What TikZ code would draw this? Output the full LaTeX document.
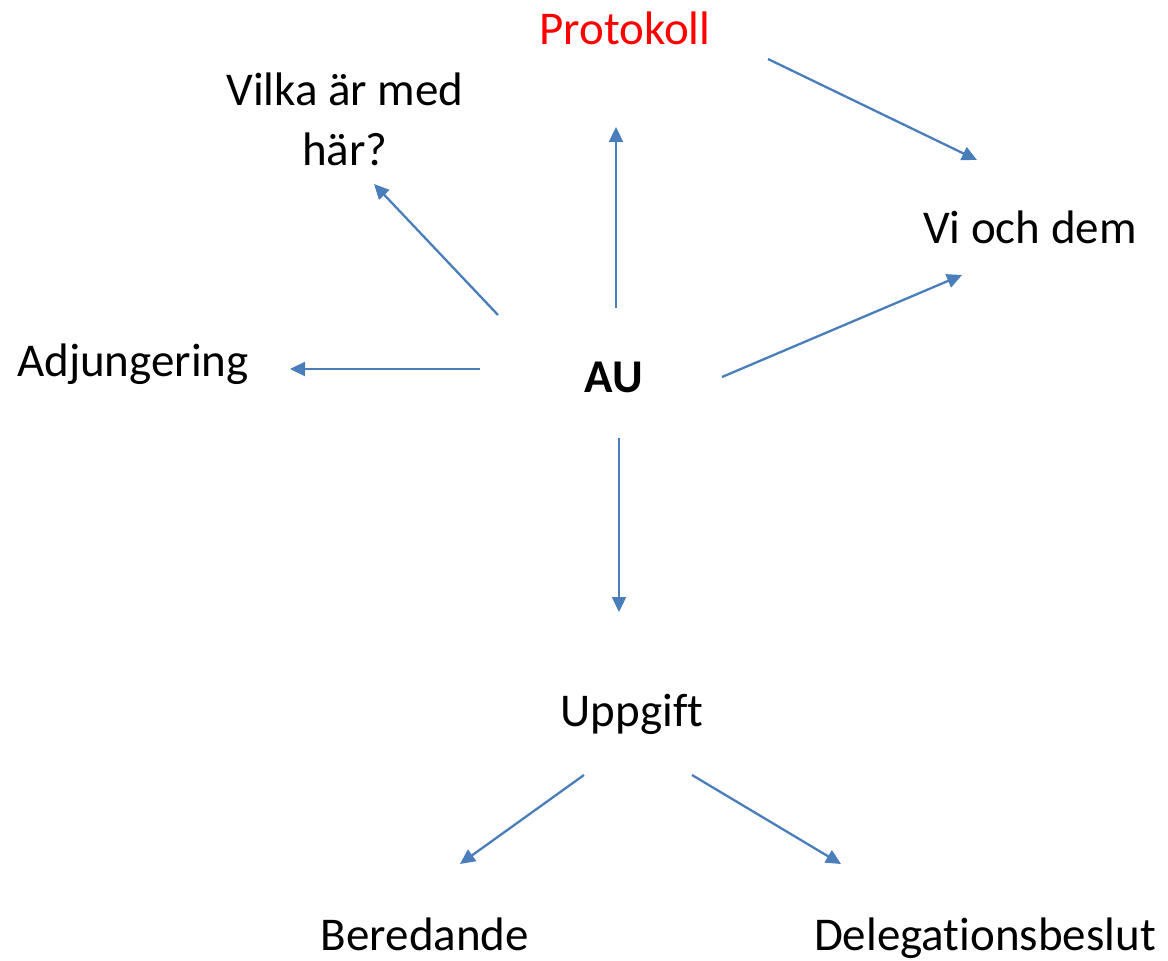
\documentclass[tikz,border=0pt]{standalone}
\usepackage{fontspec}
\setmainfont{Carlito}[Ligatures=NoCommon]
\usepackage{tikz}
\usetikzlibrary{arrows.meta, positioning}
\definecolor{colorArrow}{RGB}{74,126,187}
\definecolor{colorRed}{RGB}{255,0,0}
\tikzset{
  topic/.style={inner sep=0pt, anchor=base, font=\fontsize{47}{60}\selectfont, align=center},
  link/.style={colorArrow, line width=2.3pt, -{Triangle[length=15pt, width=14pt]}}
}

\begin{document}
\begin{tikzpicture}[x=1pt, y=-1pt]
\useasboundingbox (0,0) rectangle (1168,961);
% topics
\node[topic] (au) at (614,392) {\bfseries AU};
\node[topic, colorRed] (protokoll) at (625,45) {Protokoll};
\node[topic] (vilka) at (345,165) {Vilka är med\\här?};
\node[topic] (vioch) at (1030,243) {Vi och dem};
\node[topic] (adj) at (133,376) {Adjungering};
\node[topic] (uppgift) at (632,726) {Uppgift};
\node[topic] (bered) at (425,950) {Beredande};
\node[topic] (deleg) at (985,950) {Delegationsbeslut};
% arrow ends
\coordinate (au-n) at (616,308);
\coordinate (au-nw) at (498,315);
\coordinate (au-w) at (480,369);
\coordinate (au-e) at (722,377);
\coordinate (au-s) at (619,438);
\coordinate (protokoll-s) at (616,127);
\coordinate (protokoll-e) at (768,59);
\coordinate (vilka-s) at (374,184);
\coordinate (vioch-n) at (977,160);
\coordinate (vioch-s) at (962,275);
\coordinate (adj-e) at (290,369);
\coordinate (uppgift-n) at (619,612);
\coordinate (uppgift-sw) at (584,775);
\coordinate (uppgift-se) at (692,775);
\coordinate (bered-n) at (460,864);
\coordinate (deleg-n) at (841,864);
% links
\draw[link] (au-n) -- (protokoll-s);
\draw[link] (protokoll-e) -- (vioch-n);
\draw[link] (au-nw) -- (vilka-s);
\draw[link] (au-e) -- (vioch-s);
\draw[link] (au-w) -- (adj-e);
\draw[link] (au-s) -- (uppgift-n);
\draw[link] (uppgift-sw) -- (bered-n);
\draw[link] (uppgift-se) -- (deleg-n);
\end{tikzpicture}
\end{document}
